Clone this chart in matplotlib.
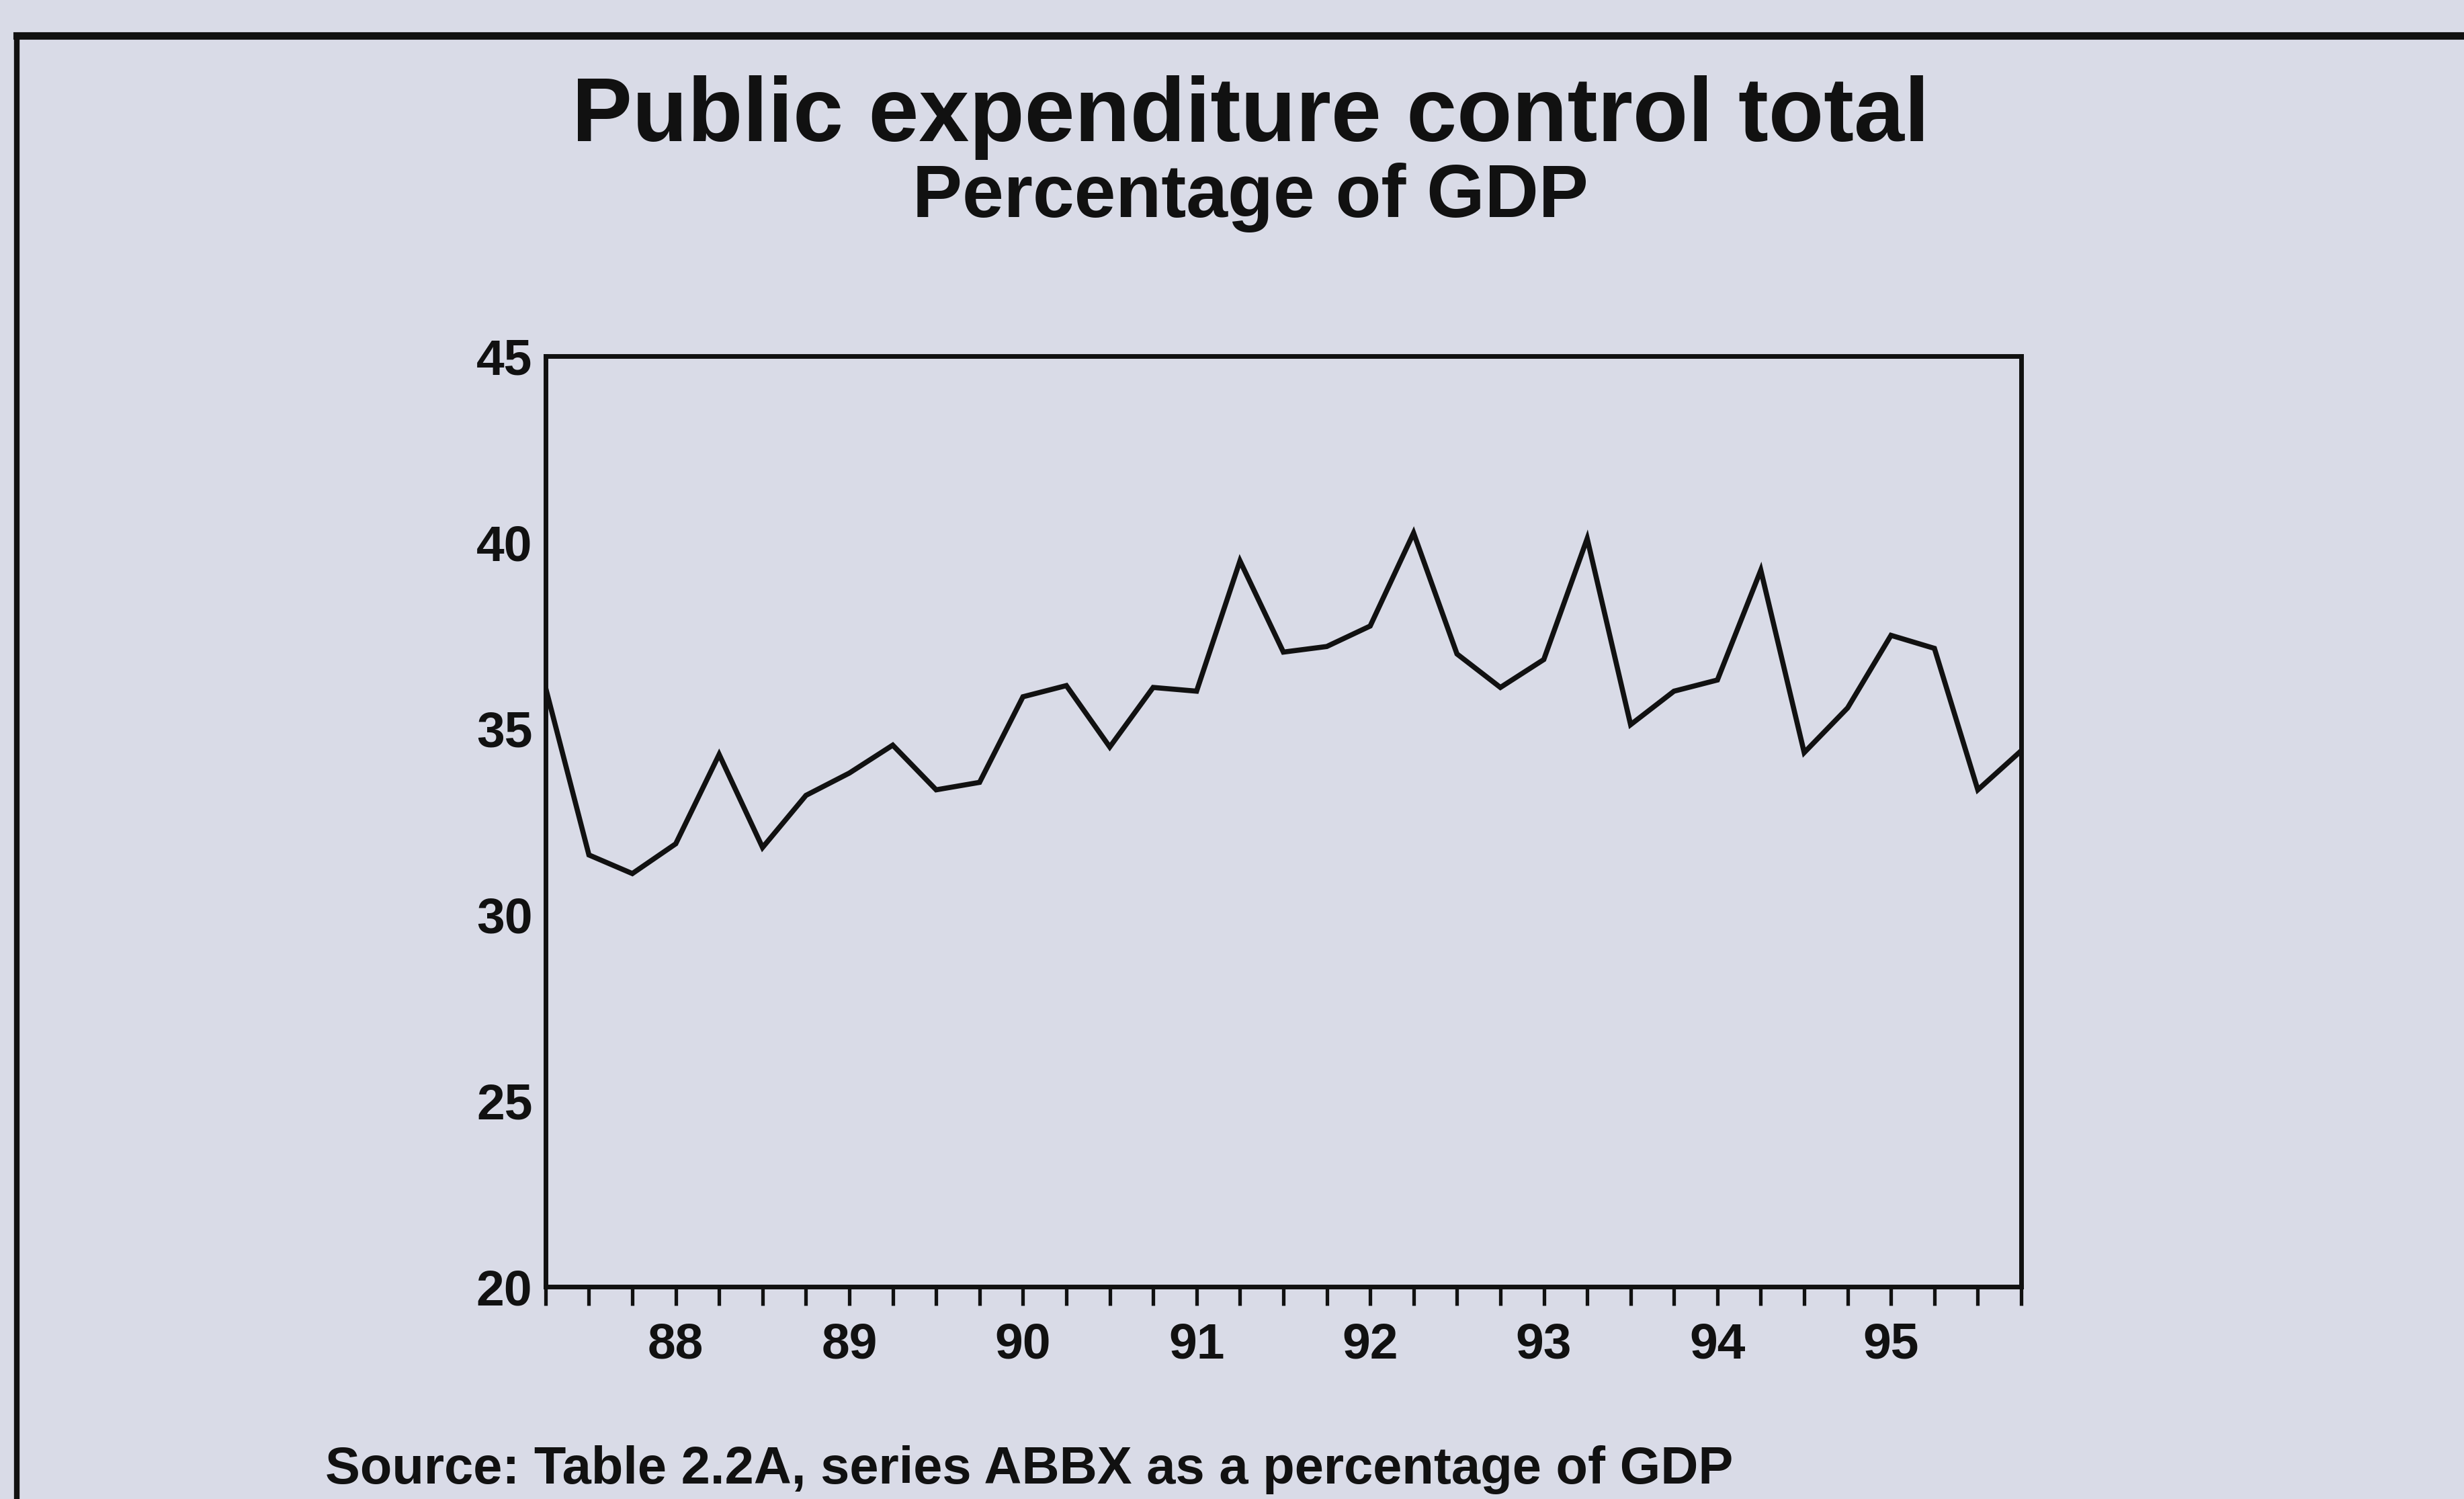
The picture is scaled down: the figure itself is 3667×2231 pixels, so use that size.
import numpy as np
import pandas as pd
import matplotlib
matplotlib.use('Agg')
import matplotlib.pyplot as plt
from matplotlib.lines import Line2D

# quarterly data, 1987 Q2 - 1995 Q4
start_quarter = '1987Q2'
pct_gdp = [36.1, 31.6, 31.1, 31.9, 34.3, 31.8, 33.2, 33.8, 34.55, 33.35,
           33.55, 35.85, 36.15, 34.5, 36.1, 36.0, 39.5, 37.05, 37.2, 37.75,
           40.25, 37.0, 36.1, 36.85, 40.1, 35.1, 36.0, 36.3, 39.25, 34.35,
           35.55, 37.5, 37.15, 33.35, 34.4]
y_ticks = [20, 25, 30, 35, 40, 45]

title = "Public expenditure control total"
subtitle = "Percentage of GDP"
source = "Source: Table 2.2A, series ABBX as a percentage of GDP"

quarters = pd.period_range(start_quarter, periods=len(pct_gdp), freq='Q')
x = np.arange(len(pct_gdp))
x_labels = [str(q.year)[2:] if q.quarter == 1 else '' for q in quarters]

bg = '#d9dbe7'
plt.rcParams['font.family'] = ['Liberation Sans', 'DejaVu Sans']
plt.rcParams['font.weight'] = 'bold'

fig = plt.figure(figsize=(36.67, 22.31), dpi=100, facecolor=bg)
ax = fig.add_axes([0.2214, 0.1416, 0.5989, 0.6208], facecolor=bg)

ax.plot(x, pct_gdp, color='#111111', lw=5.5, solid_joinstyle='miter')

ax.set_xlim(0, len(pct_gdp) - 1)
ax.set_ylim(20, 45)
ax.set_yticks(y_ticks)
ax.set_xticks(x)
ax.set_xticklabels(x_labels)
for s in ax.spines.values():
    s.set_linewidth(5)
    s.set_color('#111111')
ax.tick_params(axis='x', direction='out', length=20, width=3.8, pad=18,
               labelsize=54, colors='#111111')
ax.tick_params(axis='y', length=0, pad=14, labelsize=54, colors='#111111')
for lbl in ax.get_xticklabels() + ax.get_yticklabels():
    lbl.set_fontweight('bold')

fig.text(0.5076, 0.9059, title, ha='center', va='baseline', fontsize=97,
         fontweight='bold', color='#111111')
fig.text(0.5076, 0.8552, subtitle, ha='center', va='baseline', fontsize=80,
         fontweight='bold', color='#111111')
fig.text(0.132, 0.0103, source, ha='left', va='baseline', fontsize=56,
         fontweight='bold', color='#111111')

# page frame, cut off at the right and bottom
fig.add_artist(Line2D([0.0068, 1.0], [0.9762, 0.9762], color='#111111', lw=8,
                      transform=fig.transFigure, solid_capstyle='projecting'))
fig.add_artist(Line2D([0.0068, 0.0068], [0.0, 0.9762], color='#111111', lw=6,
                      transform=fig.transFigure))

fig.savefig('out.png', dpi=100, facecolor=bg)
